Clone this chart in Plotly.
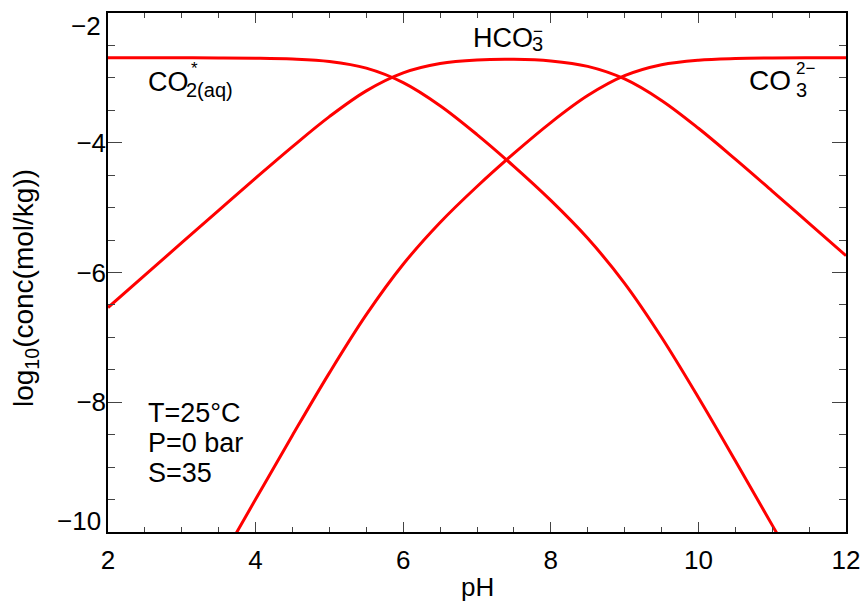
import plotly.graph_objects as go

# values (log10 concentration, mol/kg)
ph = [2.0, 2.5, 3.0, 3.5, 4.0, 4.5, 5.0, 5.5, 6.0, 6.5, 7.0, 7.5, 8.0, 8.5,
      9.0, 9.5, 10.0, 10.5, 11.0, 11.5, 12.0]
co2 = [-2.690, -2.690, -2.691, -2.692, -2.696, -2.709, -2.747, -2.850, -3.073,
       -3.429, -3.874, -4.364, -4.889, -5.473, -6.167, -6.998, -7.927, -8.902,
       -9.894, -10.891, -11.890]
hco3 = [-6.540, -6.040, -5.541, -5.042, -4.546, -4.059, -3.597, -3.200, -2.923,
        -2.779, -2.724, -2.714, -2.739, -2.823, -3.017, -3.348, -3.777, -4.252,
        -4.744, -5.241, -5.740]
co3 = [-13.49, -12.49, -11.49, -10.49, -9.496, -8.509, -7.547, -6.650, -5.873,
       -5.229, -4.674, -4.164, -3.689, -3.273, -2.967, -2.798, -2.727, -2.702,
       -2.694, -2.691, -2.690]

y_ticks = [-10, -8, -6, -4, -2]
y_ticklabels = ["−10", "−8", "−6", "−4", "−2"]
x_ticks = [2, 4, 6, 8, 10, 12]

FONT = "Liberation Sans, Arial, sans-serif"
RED = "#ff0000"

fig = go.Figure()
for name, ys in [("CO2", co2), ("HCO3", hco3), ("CO3", co3)]:
    fig.add_trace(go.Scatter(x=ph, y=ys, mode="lines", name=name,
                             line=dict(color=RED, width=3, shape="spline", smoothing=1.0),
                             showlegend=False, hoverinfo="skip"))

ann = []
def add(text, x, y, size=27, xanchor="left", yanchor="middle", ref="data", angle=0,
        xref=None, yref=None, yshift=0):
    ann.append(dict(text=text, x=x, y=y,
                    xref=xref or ("x" if ref == "data" else "paper"),
                    yref=yref or ("y" if ref == "data" else "paper"),
                    showarrow=False, xanchor=xanchor, yanchor=yanchor, textangle=angle,
                    yshift=yshift,
                    font=dict(family=FONT, size=size, color="black")))

# species labels (main text, subscript, superscript as separate pieces)
add("CO", 2.52, -3.06, size=27)
add("2(aq)", 3.03, -3.19, size=20)
add("*", 3.10, -2.85, size=17)
add("HCO", 6.92, -2.38, size=27)
add("3", 7.72, -2.48, size=20)
add("−", 7.83, -2.28, size=17, xanchor="center")
add("CO", 10.66, -3.04, size=28)
add("3", 11.30, -3.19, size=20)
add("2−", 11.30, -2.86, size=17)

# conditions
add("T=25°C", 2.52, -8.17)
add("P=0 bar", 2.52, -8.63)
add("S=35", 2.52, -9.09)

# end y tick labels, nudged inside the axis span as in the reference
add(y_ticklabels[-1], -0.007, y_ticks[-1], size=26, xanchor="right", yanchor="top",
    xref="paper", yref="y", yshift=4)
add(y_ticklabels[0], -0.007, y_ticks[0], size=26, xanchor="right", yanchor="bottom",
    xref="paper", yref="y", yshift=-6)

# axis titles
add("pH", 0.5, -0.106, size=26, xanchor="center", ref="paper")
add("log<sub>10</sub>(conc(mol/kg))", -0.1125, 0.47, size=28, xanchor="center",
    ref="paper", angle=-90)

fig.update_layout(
    width=864, height=601,
    margin=dict(l=108, r=18, t=13, b=69),
    paper_bgcolor="white", plot_bgcolor="white",
    font=dict(family=FONT, size=26, color="black"),
    annotations=ann,
)
axis_common = dict(showline=True, linecolor="black", linewidth=1.5, mirror="ticks",
                   ticks="inside", tickcolor="#444", tickwidth=1.2,
                   showgrid=False, zeroline=False, automargin=False,
                   ticklabeloverflow="allow",
                   tickfont=dict(family=FONT, size=26, color="black"))
fig.update_xaxes(range=[2, 12], tickvals=x_ticks, ticklen=10,
                 minor=dict(dtick=0.5, ticks="inside", ticklen=5, tickcolor="#444", tickwidth=1.2),
                 ticklabelstandoff=4, **axis_common)
fig.update_yaxes(range=[-10, -2], tickvals=y_ticks,
                 ticktext=[""] + y_ticklabels[1:-1] + [""], ticklen=14,
                 minor=dict(dtick=0.5, ticks="inside", ticklen=7, tickcolor="#444", tickwidth=1.2),
                 ticklabelstandoff=-5, **axis_common)

fig.write_html("out.html")
